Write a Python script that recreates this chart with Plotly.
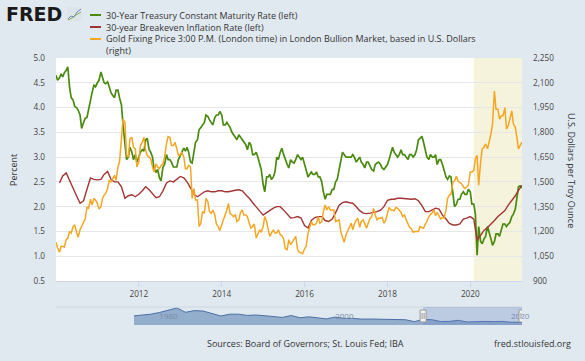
import plotly.graph_objects as go
import pandas as pd

# ---------------- data ----------------
# 30-Year Treasury Constant Maturity Rate, %, semi-monthly from 2010-01-01
treasury_30y = [
    4.65, 4.55, 4.60, 4.68, 4.62, 4.70, 4.75, 4.82, 4.40, 4.20, 4.15, 4.02,
    4.00, 3.95, 3.85, 3.58, 3.70, 3.78, 3.80, 3.98, 4.15, 4.30, 4.45, 4.42,
    4.50, 4.55, 4.72, 4.60, 4.50, 4.48, 4.52, 4.42, 4.30, 4.25, 4.20, 4.35,
    4.35, 4.20, 4.05, 3.65, 3.30, 2.95, 3.00, 3.20, 3.10, 2.95, 3.05, 2.90,
    3.00, 3.10, 3.15, 3.12, 3.35, 3.38, 3.15, 3.10, 3.00, 2.75, 2.70, 2.75,
    2.58, 2.52, 2.80, 2.85, 3.05, 2.95, 2.95, 2.90, 2.80, 2.80, 2.80, 2.95,
    3.05, 3.10, 3.18, 3.12, 3.20, 3.10, 2.90, 2.88, 3.10, 3.30, 3.35, 3.55,
    3.60, 3.65, 3.70, 3.85, 3.82, 3.75, 3.70, 3.65, 3.80, 3.85, 3.85, 3.92,
    3.85, 3.65, 3.65, 3.70, 3.65, 3.60, 3.50, 3.45, 3.40, 3.35, 3.45, 3.40,
    3.35, 3.30, 3.25, 3.15, 3.30, 3.25, 3.05, 3.05, 3.10, 3.00, 2.85, 2.75,
    2.45, 2.30, 2.60, 2.60, 2.65, 2.55, 2.60, 2.70, 3.00, 2.95, 3.10, 3.18,
    3.05, 2.95, 2.85, 2.78, 2.95, 2.90, 2.88, 2.95, 3.05, 3.00, 2.95, 3.00,
    2.85, 2.75, 2.60, 2.65, 2.70, 2.65, 2.65, 2.70, 2.60, 2.60, 2.50, 2.30,
    2.15, 2.25, 2.25, 2.25, 2.35, 2.35, 2.50, 2.55, 2.75, 2.95, 3.10, 3.05,
    3.00, 3.00, 3.00, 3.00, 3.05, 3.00, 2.90, 2.95, 3.00, 2.90, 2.85, 2.78,
    2.90, 2.90, 2.80, 2.75, 2.72, 2.85, 2.88, 2.90, 2.85, 2.78, 2.75, 2.80,
    2.85, 2.95, 3.10, 3.20, 3.10, 3.05, 3.00, 3.05, 3.15, 3.05, 3.05, 3.00,
    2.95, 3.05, 3.05, 3.00, 3.05, 3.15, 3.35, 3.38, 3.42, 3.30, 3.15, 3.00,
    2.95, 3.05, 3.00, 3.00, 3.05, 2.85, 2.95, 2.95, 2.85, 2.75, 2.60, 2.55,
    2.62, 2.60, 2.30, 2.00, 2.05, 2.15, 2.15, 2.25, 2.30, 2.25, 2.25, 2.35,
    2.30, 2.05, 2.05, 1.85, 1.02, 1.60, 1.30, 1.25, 1.35, 1.40, 1.60, 1.45,
    1.35, 1.22, 1.30, 1.45, 1.45, 1.40, 1.55, 1.65, 1.65, 1.60, 1.65, 1.68,
    1.80, 1.85, 1.95, 2.20, 2.40, 2.42, 2.38,
]

# 30-year Breakeven Inflation Rate, %, monthly from 2010-02-01
breakeven_30y = [
    2.48, 2.62, 2.68, 2.52, 2.37, 2.22, 2.07, 2.12, 2.35, 2.58, 2.55,
    2.54, 2.55, 2.65, 2.71, 2.55, 2.50, 2.50, 2.40, 2.17, 2.22, 2.24, 2.20,
    2.25, 2.32, 2.40, 2.34, 2.25, 2.18, 2.20, 2.32, 2.48, 2.52, 2.50, 2.55,
    2.61, 2.58, 2.50, 2.38, 2.25, 2.20, 2.25, 2.30, 2.32, 2.30, 2.30, 2.32,
    2.32, 2.30, 2.30, 2.32, 2.33, 2.34, 2.32, 2.24, 2.17, 2.08, 2.00, 1.90,
    1.83, 1.88, 1.93, 1.97, 2.00, 2.00, 1.93, 1.85, 1.77, 1.78, 1.80, 1.77,
    1.62, 1.57, 1.72, 1.78, 1.80, 1.80, 1.72, 1.70, 1.75, 1.88, 2.03, 2.08,
    2.10, 2.08, 2.07, 2.00, 1.92, 1.87, 1.86, 1.87, 1.88, 1.90, 1.93, 2.00,
    2.13, 2.15, 2.15, 2.17, 2.17, 2.16, 2.15, 2.15, 2.16, 2.12, 2.02, 1.90,
    1.90, 1.93, 1.97, 1.95, 1.83, 1.75, 1.66, 1.63, 1.63, 1.65, 1.75, 1.77,
    1.80, 1.75, 1.32, 1.42, 1.52, 1.58, 1.64, 1.72, 1.80, 1.85, 1.92, 2.03,
    2.12, 2.22, 2.33, 2.43,
]

# Gold Fixing Price 3:00 PM London, USD, semi-monthly from 2010-01-01
gold_fix = [
    1135, 1100, 1075, 1110, 1110, 1105, 1150, 1160, 1200, 1190, 1230, 1240,
    1195, 1165, 1210, 1230, 1250, 1275, 1345, 1340, 1395, 1360, 1400, 1390,
    1370, 1335, 1350, 1400, 1420, 1430, 1460, 1510, 1500, 1520, 1540, 1510,
    1590, 1620, 1760, 1880, 1860, 1660, 1650, 1760, 1770, 1710, 1700, 1590,
    1620, 1720, 1740, 1770, 1690, 1660, 1650, 1640, 1590, 1560, 1610, 1590,
    1580, 1600, 1610, 1650, 1730, 1775, 1770, 1720, 1720, 1740, 1700, 1660,
    1665, 1680, 1650, 1580, 1580, 1600, 1590, 1400, 1460, 1390, 1390, 1230,
    1250, 1320, 1310, 1400, 1380, 1320, 1310, 1330, 1300, 1245, 1230, 1205,
    1240, 1265, 1300, 1330, 1370, 1310, 1300, 1290, 1300, 1260, 1270, 1315,
    1330, 1300, 1300, 1290, 1250, 1220, 1230, 1245, 1160, 1190, 1210, 1195,
    1230, 1290, 1260, 1210, 1170, 1190, 1210, 1190, 1190, 1210, 1180, 1175,
    1155, 1095, 1090, 1150, 1120, 1135, 1150, 1170, 1090, 1075, 1070, 1065,
    1095, 1110, 1190, 1230, 1260, 1240, 1240, 1250, 1290, 1250, 1260, 1320,
    1360, 1330, 1350, 1330, 1330, 1330, 1260, 1265, 1270, 1200, 1160, 1135,
    1180, 1200, 1230, 1250, 1210, 1245, 1270, 1280, 1225, 1260, 1270, 1250,
    1220, 1250, 1280, 1290, 1340, 1300, 1270, 1280, 1280, 1285, 1250, 1265,
    1320, 1345, 1330, 1330, 1325, 1345, 1340, 1325, 1315, 1290, 1300, 1270,
    1250, 1225, 1215, 1195, 1200, 1200, 1200, 1230, 1225, 1220, 1245, 1260,
    1290, 1300, 1315, 1330, 1295, 1315, 1290, 1275, 1285, 1280, 1330, 1400,
    1420, 1425, 1500, 1505, 1535, 1505, 1495, 1490, 1470, 1460, 1470, 1480,
    1560, 1560, 1570, 1640, 1660, 1480, 1620, 1700, 1710, 1730, 1700, 1740,
    1790, 1850, 2050, 1940, 1940, 1880, 1900, 1900, 1950, 1820, 1840, 1880,
    1930, 1850, 1830, 1770, 1700, 1720, 1740,
]

recession_start = ["2020-02-01"]
recession_end = ["2021-04-01"]

x_range = ["2010-01-01", "2021-04-01"]
x_tick_years = [2012, 2014, 2016, 2018, 2020]

# navigator: long history of the 30-year rate
nav_years = list(range(1977, 2022))
nav_yield = [7.6, 8.0, 9.0, 10.4, 12.1, 14.2, 10.6, 12.0, 11.6, 9.3,
             7.5, 9.0, 9.0, 8.0, 8.3, 7.7, 7.3, 6.3, 7.9, 6.0,
             6.8, 5.9, 5.1, 6.6, 5.5, 5.5, 4.9, 5.0, 4.8, 4.6,
             4.8, 4.4, 2.8, 4.6, 4.4, 2.9, 3.0, 3.9, 2.5, 2.9,
             3.0, 2.8, 3.0, 2.3, 2.4]
nav_range = ["1968-04-01", "2021-04-01"]
nav_label_years = [1980, 2000, 2020]

series_names = [
    "30-Year Treasury Constant Maturity Rate (left)",
    "30-year Breakeven Inflation Rate (left)",
    "Gold Fixing Price 3:00 P.M. (London time) in London Bullion Market, based in U.S. Dollars",
]
colors = ["#4a8a10", "#a33434", "#f5a623"]

# ---------------- layout geometry ----------------
W, H = 585, 361
L, R, T, B = 56, 63, 58, 36
PW = W - L - R
PH = H - T - B


def px(x):
    return (x - L) / PW


def py(y):
    return (H - B - y) / PH


main_dom = [py(281), 1.0]
nav_dom = [0.0, py(307)]

FONT = "Open Sans"
TXT = "#333333"

semi_dates = pd.date_range("2010-01-01", periods=len(treasury_30y), freq="SMS")
gold_dates = pd.date_range("2010-01-01", periods=len(gold_fix), freq="SMS")
month_dates = pd.date_range("2010-02-01", periods=len(breakeven_30y), freq="MS")
nav_dates = ["1977-02-15"] + [f"{y}-01-01" for y in nav_years[1:-1]] + ["2021-04-01"]

fig = go.Figure()
fig.add_trace(go.Scatter(x=semi_dates, y=treasury_30y, mode="lines",
                         line=dict(color=colors[0], width=1.7),
                         xaxis="x", yaxis="y", showlegend=False, name=series_names[0]))
fig.add_trace(go.Scatter(x=month_dates, y=breakeven_30y, mode="lines",
                         line=dict(color=colors[1], width=1.4),
                         xaxis="x", yaxis="y", showlegend=False, name=series_names[1]))
fig.add_trace(go.Scatter(x=gold_dates, y=gold_fix, mode="lines",
                         line=dict(color=colors[2], width=1.5),
                         xaxis="x", yaxis="y2", showlegend=False, name=series_names[2]))
# navigator series
fig.add_trace(go.Scatter(x=nav_dates, y=nav_yield, mode="lines", fill="tozeroy",
                         line=dict(color="#4a6fa5", width=1),
                         fillcolor="rgba(69,114,167,0.5)",
                         xaxis="x2", yaxis="y3", showlegend=False, hoverinfo="skip"))
fig.add_trace(go.Scatter(x=[f"{y}-01-01" for y in nav_label_years], y=[7.0] * 3,
                         mode="text", text=[str(y) for y in nav_label_years],
                         textposition="middle right", cliponaxis=False,
                         textfont=dict(family=FONT, size=8, color="#7a8cab"),
                         xaxis="x2", yaxis="y3", showlegend=False, hoverinfo="skip"))

shapes = []
# white plot background for the main chart only
shapes.append(dict(type="rect", xref="paper", yref="paper", x0=0, x1=1,
                   y0=main_dom[0], y1=1, fillcolor="white", line=dict(width=0),
                   layer="below"))
# recession shading
for s, e in zip(recession_start, recession_end):
    shapes.append(dict(type="rect", xref="x", yref="paper", x0=s, x1=e,
                       y0=main_dom[0], y1=1, fillcolor="#f5f3db",
                       line=dict(width=0), layer="below"))
# navigator outline and mask
shapes.append(dict(type="line", xref="paper", yref="paper", x0=0, x1=1,
                   y0=nav_dom[1], y1=nav_dom[1], line=dict(color="#cdd6e2", width=1)))
shapes.append(dict(type="rect", xref="x2", yref="paper", x0=x_range[0], x1=x_range[1],
                   y0=nav_dom[0], y1=nav_dom[1], fillcolor="rgba(102,133,194,0.3)",
                   line=dict(width=0), layer="above"))
for xa in x_range:
    shapes.append(dict(type="rect", xref="x2", yref="paper", xsizemode="pixel",
                       xanchor=xa, x0=-3, x1=3, y0=py(322), y1=py(310),
                       fillcolor="#f2f2f2", line=dict(color="#999999", width=1)))
    for dx in (-1, 1):
        shapes.append(dict(type="line", xref="x2", yref="paper", xsizemode="pixel",
                           xanchor=xa, x0=dx, x1=dx, y0=py(319), y1=py(313),
                           line=dict(color="#999999", width=1)))

# legend swatches
leg_y = [15, 27, 39]
for c, yy in zip(colors, leg_y):
    shapes.append(dict(type="line", xref="paper", yref="paper",
                       x0=px(90), x1=px(101), y0=py(yy), y1=py(yy),
                       line=dict(color=c, width=2)))

# small FRED logo icon
shapes.append(dict(type="rect", xref="paper", yref="paper", x0=px(67), x1=px(82),
                   y0=py(21), y1=py(7), fillcolor="#dde3ea", line=dict(width=0)))


def path(pts):
    return "M" + " L".join(f"{px(a):.5f},{py(b):.5f}" for a, b in pts)


shapes.append(dict(type="path", xref="paper", yref="paper",
                   path=path([(68, 19), (71, 16), (74, 17), (77, 12), (81, 9)]),
                   line=dict(color="#6f8fc8", width=1)))
shapes.append(dict(type="path", xref="paper", yref="paper",
                   path=path([(68, 20), (72, 18), (76, 15), (81, 12)]),
                   line=dict(color="#80b14c", width=1)))

annotations = []
annotations.append(dict(text="<b>FRED</b>", xref="paper", yref="paper", x=px(4), y=py(14.5),
                        xanchor="left", yanchor="middle", showarrow=False,
                        font=dict(family="DejaVu Sans", size=19, color="#1a1a1a")))
legend_text = "<br>".join(series_names + ["(right)"])
annotations.append(dict(text=legend_text, xref="paper", yref="paper", x=px(104), y=py(33),
                        xanchor="left", yanchor="middle", align="left", showarrow=False,
                        font=dict(family=FONT, size=9, color=TXT)))
annotations.append(dict(text="Percent", xref="paper", yref="paper", x=px(13), y=py(170),
                        xanchor="center", yanchor="middle", textangle=-90, showarrow=False,
                        font=dict(family=FONT, size=9, color=TXT)))
annotations.append(dict(text="U.S. Dollars per Troy Ounce", xref="paper", yref="paper",
                        x=px(572), y=py(170), xanchor="center", yanchor="middle",
                        textangle=90, showarrow=False,
                        font=dict(family=FONT, size=9, color=TXT)))
annotations.append(dict(text="Sources: Board of Governors; St. Louis Fed; IBA", xref="paper",
                        yref="paper", x=px(305.5), y=py(343), xanchor="center",
                        yanchor="middle", showarrow=False,
                        font=dict(family=FONT, size=9, color=TXT)))
annotations.append(dict(text="fred.stlouisfed.org", xref="paper", yref="paper", x=px(573),
                        y=py(343), xanchor="right", yanchor="middle", showarrow=False,
                        font=dict(family=FONT, size=9, color=TXT)))

tickfont = dict(family=FONT, size=8.2, color="#444444")

fig.update_layout(
    width=W, height=H,
    margin=dict(l=L, r=R, t=T, b=B, pad=0),
    paper_bgcolor="#e1e9f0",
    plot_bgcolor="rgba(0,0,0,0)",
    showlegend=False,
    hovermode=False,
    shapes=shapes,
    annotations=annotations,
    xaxis=dict(domain=[0, 1], anchor="y", type="date", range=x_range,
               tickvals=[f"{y}-01-01" for y in x_tick_years],
               ticktext=[str(y) for y in x_tick_years],
               ticks="outside", ticklen=5, tickcolor="#ccd6eb",
               showline=True, linecolor="#ccd6eb", linewidth=1,
               showgrid=False, zeroline=False, tickfont=tickfont),
    yaxis=dict(domain=main_dom, anchor="x", range=[0.5, 5.0], tick0=0.5, dtick=0.5,
               tickformat=".1f", showgrid=True, gridcolor="#e6e6e6", gridwidth=1,
               zeroline=False, ticks="", ticklabelstandoff=10, tickfont=tickfont),
    yaxis2=dict(overlaying="y", side="right", anchor="x", range=[900, 2250],
                tick0=900, dtick=150, tickformat=",", showgrid=False, zeroline=False,
                ticks="", ticklabelstandoff=10, tickfont=tickfont),
    xaxis2=dict(domain=[0, 1], anchor="y3", type="date", range=nav_range, visible=False),
    yaxis3=dict(domain=nav_dom, anchor="x2", range=[0, 15], visible=False),
)

fig.write_html("out.html",
               config={"displayModeBar": False},
               post_script="document.body.style.margin='0px';"
                           "document.body.style.overflow='hidden';")
